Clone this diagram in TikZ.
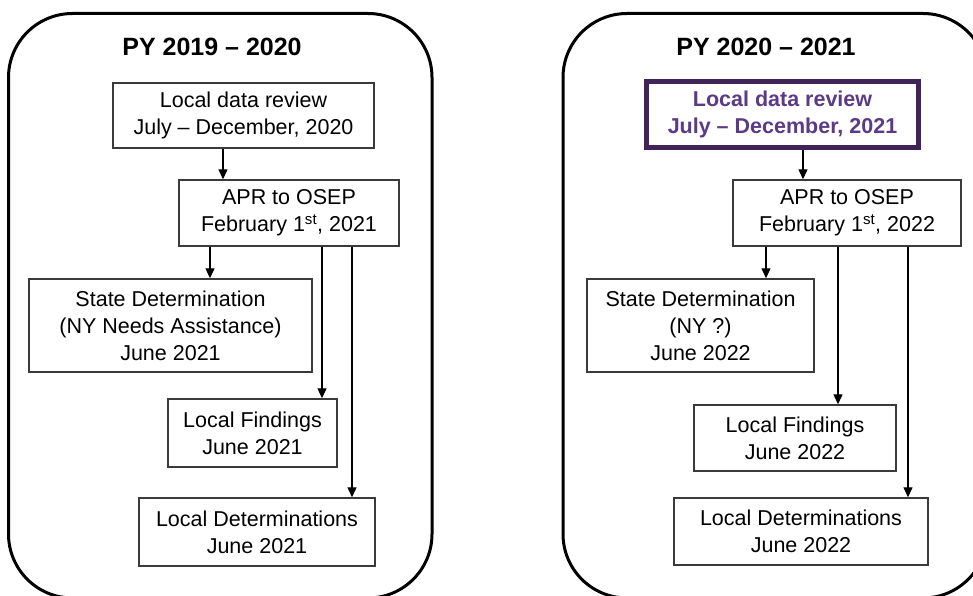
\documentclass[tikz,border=0pt]{standalone}
\usepackage{fontspec}
\setmainfont{Liberation Sans}
\usetikzlibrary{arrows.meta, positioning, calc}
\definecolor{purpleframe}{HTML}{3F2359}
\definecolor{purpletext}{HTML}{5B3A86}
\definecolor{boxline}{HTML}{3A3A3A}

\begin{document}
\begin{tikzpicture}[x=1pt, y=-1pt, panel/.style={draw, line width=3pt, rounded corners=64pt}, title/.style={font=\fontsize{25}{30}\selectfont\bfseries}, stepbox/.style={draw=boxline, line width=1.4pt, align=center, inner sep=0pt, font=\fontsize{21.5}{27}\selectfont}, keybox/.style={stepbox, draw=purpleframe, line width=4.5pt, text=purpletext, font=\fontsize{21.5}{27}\selectfont\bfseries}, flow/.style={-{Triangle[length=10pt, width=9pt]}, line width=1.2pt}]
        \path[use as bounding box, clip] (0,0) rectangle (973,596);
        % the two programme years
        \draw[panel] (8.5,13.5) rectangle (432,598);
        \draw[panel] (563,13.5) rectangle (987,598);

        % PY 2019 - 2020
        \node[title] (ltitle) at (212,47) {PY 2019 – 2020};
        \node[stepbox, minimum width=261pt, minimum height=65pt] (lreview) at (243.5,115.5) {Local data review\\July – December, 2020};
        \node[stepbox, minimum width=220pt, minimum height=66pt] (lapr) at (289,213) {APR to OSEP\\February 1\textsuperscript{st}, 2021};
        \node[stepbox, minimum width=283pt, minimum height=93pt] (lstate) at (170.5,325.5) {State Determination\\(NY Needs Assistance)\\June 2021};
        \node[stepbox, minimum width=169pt, minimum height=68pt] (lfind) at (252.5,433) {Local Findings\\June 2021};
        \node[stepbox, minimum width=236pt, minimum height=68pt] (ldet) at (257,532) {Local Determinations\\June 2021};
        \draw[flow] ([xshift=-20.5pt]lreview.south) -- ([xshift=-20.5pt]lreview.south |- lapr.north);
        \draw[flow] ([xshift=-79pt]lapr.south) -- ([xshift=-79pt]lapr.south |- lstate.north);
        \draw[flow] ([xshift=33pt]lapr.south) -- ([xshift=33pt]lapr.south |- lfind.north);
        \draw[flow] ([xshift=63pt]lapr.south) -- ([xshift=63pt]lapr.south |- ldet.north);

        % PY 2020 - 2021
        \node[title] (rtitle) at (766,47) {PY 2020 – 2021};
        \node[keybox, minimum width=272pt, minimum height=66pt] (rreview) at (782.5,114.5) {Local data review\\July – December, 2021};
        \node[stepbox, minimum width=228pt, minimum height=66pt] (rapr) at (847,213) {APR to OSEP\\February 1\textsuperscript{st}, 2022};
        \node[stepbox, minimum width=227pt, minimum height=93pt] (rstate) at (700.5,325.5) {State Determination\\(NY ?)\\June 2022};
        \node[stepbox, minimum width=202pt, minimum height=66pt] (rfind) at (795,438) {Local Findings\\June 2022};
        \node[stepbox, minimum width=254pt, minimum height=67pt] (rdet) at (801,531.5) {Local Determinations\\June 2022};
        \draw[flow] ([xshift=20.5pt]rreview.south) -- ([xshift=20.5pt]rreview.south |- rapr.north);
        \draw[flow] ([xshift=-81pt]rapr.south) -- ([xshift=-81pt]rapr.south |- rstate.north);
        \draw[flow] ([xshift=-9pt]rapr.south) -- ([xshift=-9pt]rapr.south |- rfind.north);
        \draw[flow] ([xshift=61pt]rapr.south) -- ([xshift=61pt]rapr.south |- rdet.north);
    \end{tikzpicture}
\end{document}
